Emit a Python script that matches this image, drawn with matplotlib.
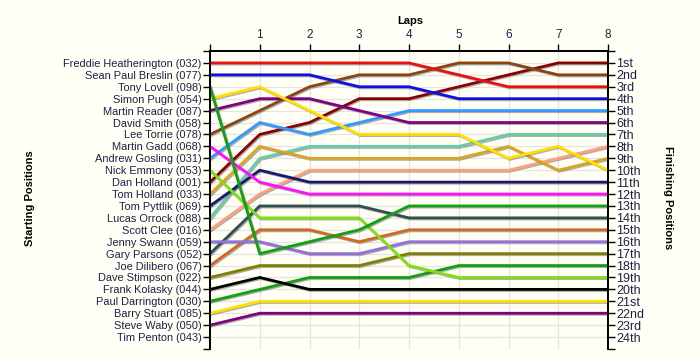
import matplotlib
matplotlib.use("Agg")
import matplotlib.pyplot as plt
import matplotlib.patheffects as pe

plt.rcParams["font.family"] = ["Liberation Sans", "DejaVu Sans"]

laps = [0, 1, 2, 3, 4, 5, 6, 7, 8]

drivers = [
    "Freddie Heatherington (032)", "Sean Paul Breslin (077)", "Tony Lovell (098)",
    "Simon Pugh (054)", "Martin Reader (087)", "David Smith (058)",
    "Lee Torrie (078)", "Martin Gadd (068)", "Andrew Gosling (031)",
    "Nick Emmony (053)", "Dan Holland (001)", "Tom Holland (033)",
    "Tom Pyttlik (069)", "Lucas Orrock (088)", "Scott Clee (016)",
    "Jenny Swann (059)", "Gary Parsons (052)", "Joe Dilibero (067)",
    "Dave Stimpson (022)", "Frank Kolasky (044)", "Paul Darrington (030)",
    "Barry Stuart (085)", "Steve Waby (050)", "Tim Penton (043)",
]

finish_labels = ["1st", "2nd", "3rd"] + [f"{i}th" for i in range(4, 21)] + \
    ["21st", "22nd", "23rd", "24th"]

# position after each lap, keyed by starting position (6 and 24 have no data)
positions = {
    1: [1, 1, 1, 1, 1, 2, 3, 3, 3],
    2: [2, 2, 2, 3, 3, 4, 4, 4, 4],
    3: [3, 17, 16, 15, 13, 13, 13, 13, 13],
    4: [4, 3, 5, 7, 7, 7, 9, 8, 10],
    5: [5, 4, 4, 5, 6, 6, 6, 6, 6],
    7: [7, 5, 3, 2, 2, 1, 1, 2, 2],
    8: [8, 11, 12, 12, 12, 12, 12, 12, 12],
    9: [9, 6, 7, 6, 5, 5, 5, 5, 5],
    10: [10, 14, 14, 14, 18, 19, 19, 19, 19],
    11: [11, 7, 6, 4, 4, 3, 2, 1, 1],
    12: [12, 8, 9, 9, 9, 9, 8, 10, 9],
    13: [13, 10, 11, 11, 11, 11, 11, 11, 11],
    14: [14, 9, 8, 8, 8, 8, 7, 7, 7],
    15: [15, 12, 10, 10, 10, 10, 10, 9, 8],
    16: [16, 16, 17, 17, 16, 16, 16, 16, 16],
    17: [17, 13, 13, 13, 14, 14, 14, 14, 14],
    18: [18, 15, 15, 16, 15, 15, 15, 15, 15],
    19: [19, 18, 18, 18, 17, 17, 17, 17, 17],
    20: [20, 19, 20, 20, 20, 20, 20, 20, 20],
    21: [21, 20, 19, 19, 19, 18, 18, 18, 18],
    22: [22, 21, 21, 21, 21, 21, 21, 21, 21],
    23: [23, 22, 22, 22, 22, 22, 22, 22, 22],
}

colors = {
    1: "#e81010", 2: "#1010e0", 3: "#10a010", 4: "#ffe000", 5: "#800080",
    7: "#8b4513", 8: "#ff10ff", 9: "#3399ff", 10: "#80e010", 11: "#8b0000",
    12: "#daa520", 13: "#191970", 14: "#66cdaa", 15: "#ffa07a", 16: "#9370db",
    17: "#2f4f4f", 18: "#d2691e", 19: "#808000", 20: "#000000", 21: "#10a010",
    22: "#ffe000", 23: "#800080",
}

bg = "#fffff6"
txt = "#20204a"

fig = plt.figure(figsize=(7, 3.6), dpi=100, facecolor=bg)
ax = fig.add_axes([210 / 700, 1 - 349 / 360, 398 / 700, 298 / 360])
ax.set_facecolor(bg)

shadow = [pe.SimpleLineShadow(offset=(0.8, -0.8), shadow_color="#606060", alpha=0.5),
          pe.Normal()]
for start in sorted(positions, reverse=True):
    ax.plot(laps, positions[start], color=colors[start], lw=2.0,
            solid_joinstyle="miter", path_effects=shadow, zorder=3)

ax.set_xlim(0, 8)
ax.set_ylim(25, 0)

ax.xaxis.tick_top()
ax.set_xticks(range(0, 9))
ax.set_xticklabels([""] + [str(i) for i in range(1, 9)], fontsize=8.5, color=txt)
ax.set_yticks(range(0, 26))
ax.set_yticklabels([""] + drivers + [""], fontsize=7.9, color=txt)
ax.tick_params(axis="both", direction="out", length=5, width=1, pad=1)
ax.tick_params(axis="x", pad=2)
ax.tick_params(axis="y", right=True)

ax2 = ax.twinx()
ax2.set_ylim(25, 0)
ax2.set_yticks(range(0, 26))
ax2.set_yticklabels([""] + finish_labels + [""], fontsize=9, color=txt)
ax2.tick_params(axis="y", direction="out", length=5, width=1, pad=1)

for a in (ax, ax2):
    a.spines["bottom"].set_visible(False)
    for s in ("top", "left", "right"):
        a.spines[s].set_linewidth(1.3)

ax.grid(True, color="#e4e4e4", lw=0.9, zorder=0)
ax.set_axisbelow(True)

fig.text(410 / 700, 1 - 21 / 360, "Laps", ha="center", va="center",
         fontsize=8, fontweight="bold")
fig.text(30 / 700, 1 - 198 / 360, "Starting Positions", ha="center", va="center",
         rotation=90, fontsize=8, fontweight="bold")
fig.text(668 / 700, 1 - 198 / 360, "Finishing Positions", ha="center", va="center",
         rotation=270, fontsize=8, fontweight="bold")

fig.savefig("out.png", dpi=100, facecolor=bg)
